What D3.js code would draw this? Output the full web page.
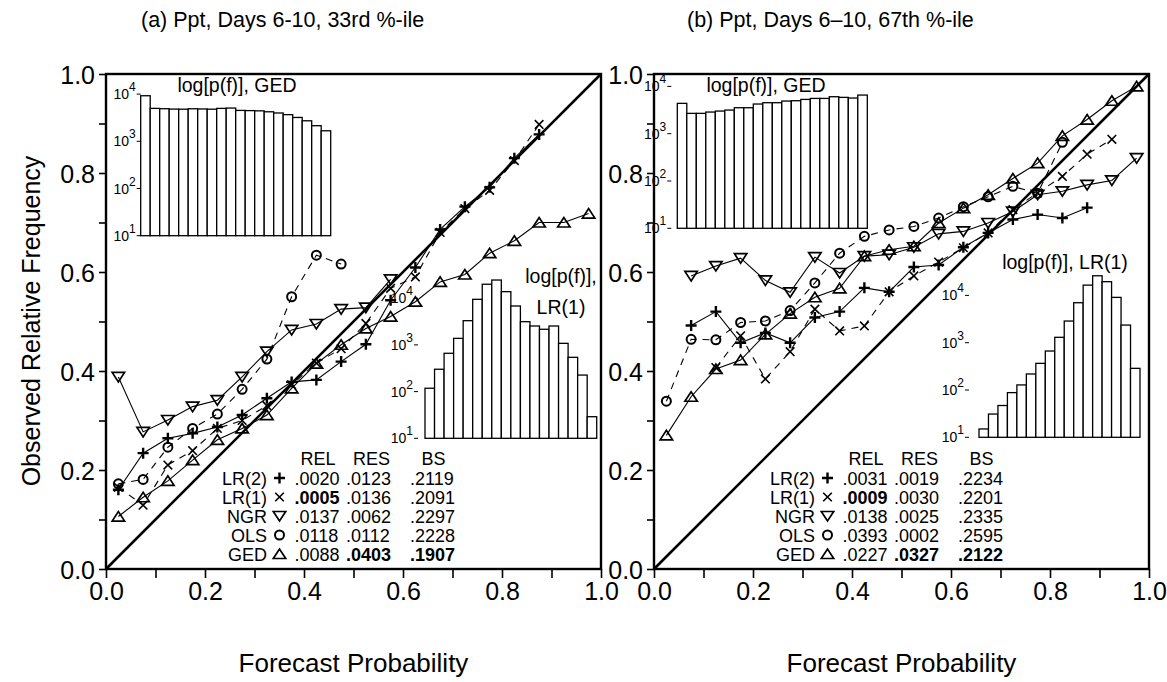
<!DOCTYPE html>
<html>
<head>
<meta charset="utf-8">
<script src="https://cdn.jsdelivr.net/npm/d3@7"></script>
<style>
  body { margin: 0; background: #fff; }
  text { font-family: "Liberation Sans", Arial, Helvetica, sans-serif; fill: #000; }
</style>
</head>
<body>
<svg id="chart" width="1167" height="682"></svg>
<script>
// ---- forecast probability bin centres (20 bins of width 0.05) ----
const probBins = [0.025, 0.075, 0.125, 0.175, 0.225, 0.275, 0.325, 0.375, 0.425, 0.475,
                  0.525, 0.575, 0.625, 0.675, 0.725, 0.775, 0.825, 0.875, 0.925, 0.975];

// ---- panel (a): observed relative frequency per bin ----
const aLR2 = [0.160, 0.234, 0.264, 0.274, 0.287, 0.311, 0.345, 0.378, 0.382, 0.419,
              0.454, 0.543, 0.609, 0.686, 0.732, 0.771, 0.830, 0.878, null, null];
const aLR1 = [0.165, 0.129, 0.210, 0.239, 0.284, 0.300, 0.330, 0.372, 0.416, 0.445,
              0.496, 0.567, 0.590, 0.680, 0.728, 0.765, 0.825, 0.898, null, null];
const aNGR = [0.388, 0.277, 0.301, 0.328, 0.341, 0.388, 0.439, 0.483, 0.495, 0.525,
              0.528, 0.585, null, null, null, null, null, null, null, null];
const aOLS = [0.172, 0.181, 0.246, 0.284, 0.313, 0.363, 0.424, 0.550, 0.634, 0.616,
              null, null, null, null, null, null, null, null, null, null];
const aGED = [0.106, 0.145, 0.178, 0.220, 0.261, 0.284, 0.311, 0.365, 0.415, 0.453,
              0.486, 0.510, 0.540, 0.580, 0.595, 0.638, 0.663, 0.700, 0.700, 0.718];

// ---- panel (b) ----
const bLR2 = [null, 0.492, 0.520, 0.457, 0.477, 0.457, 0.508, 0.520, 0.568, 0.560,
              0.610, 0.614, 0.650, 0.679, 0.706, 0.716, 0.709, 0.730, null, null];
const bLR1 = [null, null, 0.407, 0.471, 0.384, 0.439, 0.525, 0.481, 0.491, 0.560,
              0.592, 0.620, 0.649, 0.679, 0.726, 0.760, 0.793, 0.838, 0.868, null];
const bNGR = [null, 0.592, 0.612, 0.628, 0.583, 0.559, 0.630, 0.598, 0.632, 0.635,
              0.650, 0.677, 0.682, 0.699, 0.722, 0.756, 0.763, 0.776, 0.785, 0.830];
const bOLS = [0.339, 0.464, 0.463, 0.498, 0.501, 0.522, 0.578, 0.638, 0.672, 0.685,
              0.692, 0.709, 0.732, 0.752, 0.773, 0.759, 0.862, null, null, null];
const bGED = [0.270, 0.348, 0.404, 0.422, 0.474, 0.516, 0.549, 0.567, 0.632, 0.645,
              0.652, 0.699, 0.729, 0.756, 0.789, 0.820, 0.875, 0.908, 0.946, 0.975];

// ---- forecast counts per bin (histogram insets) ----
const aHistGED = [9230, 4980, 4900, 4810, 4790, 4890, 4840, 4790, 4980, 5060,
                  4510, 4470, 4420, 4220, 3980, 3670, 3200, 2720, 2140, 1670];
const aHistLR1 = [118, 301, 661, 1380, 3300, 9460, 19900, 24500, 13800, 6810,
                  3140, 2540, 2160, 2540, 1080, 542, 226, 29];          // bins 1-18
const bHistGED = [4380, 2690, 2690, 2870, 3010, 3160, 3540, 3540, 4240, 4520,
                  4520, 4900, 4980, 5310, 5570, 5570, 6050, 5860, 5680, 6560];
const bHistLR1 = [15, 31, 47, 88, 128, 218, 366, 667, 1300, 2870,
                  7000, 16500, 26000, 19500, 9080, 2360, 287];          // bins 3-19

// ---- score tables ----
const modelNames = ["LR(2)", "LR(1)", "NGR", "OLS", "GED"];
const aREL = [".0020", ".0005", ".0137", ".0118", ".0088"];
const aRES = [".0123", ".0136", ".0062", ".0112", ".0403"];
const aBS  = [".2119", ".2091", ".2297", ".2228", ".1907"];
const bREL = [".0031", ".0009", ".0138", ".0393", ".0227"];
const bRES = [".0019", ".0030", ".0025", ".0002", ".0327"];
const bBS  = [".2234", ".2201", ".2335", ".2595", ".2122"];

// ---- axis ticks ----
const axisTicks = [0, 0.1, 0.2, 0.3, 0.4, 0.5, 0.6, 0.7, 0.8, 0.9, 1.0];
const axisLabels = ["0.0", "", "0.2", "", "0.4", "", "0.6", "", "0.8", "", "1.0"];
const insetDecades = [1, 2, 3, 4];

// ---------------------------------------------------------------------------
const svg = d3.select("#chart");
const W = 495, H = 495, TOP = 74;
const symbolOf = { "LR(2)": "plus", "LR(1)": "cross", "NGR": "down", "OLS": "circle", "GED": "up" };

function drawMarker(g, type, x, y) {
  if (type === "plus") {
    g.append("path").attr("d", `M${x-5.5},${y}H${x+5.5}M${x},${y-5.5}V${y+5.5}`)
      .attr("stroke", "#000").attr("stroke-width", 2.4).attr("fill", "none");
  } else if (type === "cross") {
    g.append("path").attr("d", `M${x-4.3},${y-4.3}L${x+4.3},${y+4.3}M${x-4.3},${y+4.3}L${x+4.3},${y-4.3}`)
      .attr("stroke", "#000").attr("stroke-width", 1.6).attr("fill", "none");
  } else if (type === "down") {
    g.append("path").attr("d", `M${x-6.2},${y-4.5}L${x+6.2},${y-4.5}L${x},${y+5}Z`)
      .attr("stroke", "#000").attr("stroke-width", 1.7).attr("fill", "none");
  } else if (type === "up") {
    g.append("path").attr("d", `M${x-6.2},${y+4.5}L${x+6.2},${y+4.5}L${x},${y-5}Z`)
      .attr("stroke", "#000").attr("stroke-width", 1.7).attr("fill", "none");
  } else {
    g.append("circle").attr("cx", x).attr("cy", y).attr("r", 4.5)
      .attr("stroke", "#000").attr("stroke-width", 2).attr("fill", "none");
  }
}

function drawInset(g, counts, firstBin, box, title) {
  // box: left edge of first bar, baseline y, decade height, bar width, tick gap
  const n = counts.length;
  const xb = d3.scaleBand().domain(d3.range(firstBin, firstBin + n))
    .range([box.left, box.left + n * box.bw]).paddingInner(0).paddingOuter(0);
  const yl = d3.scaleLog().domain([10, 10000]).range([box.base, box.base - 3 * box.dec]);
  const ig = g.append("g");
  ig.selectAll("rect").data(counts).join("rect")
    .attr("x", (d, i) => xb(firstBin + i))
    .attr("y", d => yl(d))
    .attr("width", xb.bandwidth())
    .attr("height", d => box.base - yl(d))
    .attr("fill", "#fff").attr("stroke", "#000").attr("stroke-width", 1.3);
  const tx = box.left - box.gap;
  insetDecades.forEach(e => {
    const yy = yl(Math.pow(10, e));
    ig.append("line").attr("x1", tx - 4).attr("x2", tx).attr("y1", yy).attr("y2", yy)
      .attr("stroke", "#000").attr("stroke-width", 1);
    const t = ig.append("text").attr("x", tx - 5).attr("y", yy + 5)
      .attr("text-anchor", "end").attr("font-size", 14);
    t.append("tspan").text("10");
    t.append("tspan").attr("dy", -8).attr("font-size", 12).text(e);
  });
  title.lines.forEach((s, i) => {
    ig.append("text").attr("x", title.x).attr("y", title.y + i * 31)
      .attr("text-anchor", "middle").attr("font-size", 19.5).text(s);
  });
}

function drawPanel(left, cfg) {
  const g = svg.append("g").attr("transform", `translate(${left},${TOP})`);
  const x = d3.scaleLinear().domain([0, 1]).range([0, W]);
  const y = d3.scaleLinear().domain([0, 1]).range([H, 0]);

  // axes
  const xAxis = d3.axisBottom(x).tickValues(axisTicks).tickSize(9).tickPadding(4)
    .tickFormat((d, i) => axisLabels[i]);
  const yAxis = d3.axisLeft(y).tickValues(axisTicks).tickSize(7).tickPadding(4)
    .tickFormat((d, i) => axisLabels[i]);
  const gx = g.append("g").attr("transform", `translate(0,${H})`).call(xAxis);
  const gy = g.append("g").call(yAxis);
  [gx, gy].forEach(a => {
    a.select(".domain").remove();
    a.selectAll(".tick line").attr("stroke", "#000").attr("stroke-width", 1.6);
    a.selectAll(".tick text").attr("font-size", 25).attr("font-family", null);
  });
  gy.selectAll(".tick text").attr("dy", "0.36em");

  // frame and diagonal
  g.append("rect").attr("x", 0).attr("y", 0).attr("width", W).attr("height", H)
    .attr("fill", "none").attr("stroke", "#000").attr("stroke-width", 2.4);
  g.append("line").attr("x1", x(0)).attr("y1", y(0)).attr("x2", x(1)).attr("y2", y(1))
    .attr("stroke", "#000").attr("stroke-width", 2.6);

  // insets
  cfg.insets.forEach(ins => drawInset(g, ins.counts, ins.firstBin, ins.box, ins.title));

  // reliability curves
  cfg.series.forEach(s => {
    const pts = probBins.map((p, i) => [p, s.values[i]]);
    const line = d3.line().defined(d => d[1] !== null).x(d => x(d[0])).y(d => y(d[1]));
    g.append("path").datum(pts).attr("d", line).attr("fill", "none")
      .attr("stroke", "#000").attr("stroke-width", 1.1)
      .attr("stroke-dasharray", s.dashed ? "7,6" : null);
    const mg = g.append("g");
    pts.filter(d => d[1] !== null).forEach(d => drawMarker(mg, symbolOf[s.name], x(d[0]), y(d[1])));
  });

  // score table
  const tg = g.append("g");
  const hy = 390.5;
  [["REL", 212], ["RES", 265.5], ["BS", 327.5]].forEach(([h, cx]) => {
    tg.append("text").attr("x", cx).attr("y", hy).attr("text-anchor", "middle")
      .attr("font-size", 18).text(h);
  });
  modelNames.forEach((m, i) => {
    const ry = 410.5 + i * 19;
    tg.append("text").attr("x", 161).attr("y", ry).attr("text-anchor", "end")
      .attr("font-size", 18).text(m);
    drawMarker(tg, symbolOf[m], 173.5, ry - 6.5);
    [[cfg.rel[i], 188.5, "rel"], [cfg.res[i], 240, "res"], [cfg.bs[i], 304, "bs"]].forEach(([v, cx, key]) => {
      tg.append("text").attr("x", cx).attr("y", ry).attr("font-size", 18)
        .attr("font-weight", cfg.bold.some(b => b[0] === i && b[1] === key) ? "bold" : null)
        .text(v);
    });
  });

  // titles
  svg.append("text").attr("x", left + cfg.titleDx).attr("y", 27).attr("font-size", 21.5).text(cfg.title);
  svg.append("text").attr("x", left + W / 2).attr("y", 672).attr("text-anchor", "middle")
    .attr("font-size", 26).text("Forecast Probability");
}

drawPanel(106, {
  title: "(a) Ppt, Days 6-10, 33rd %-ile", titleDx: 35,
  series: [
    { name: "LR(2)", values: aLR2, dashed: false },
    { name: "LR(1)", values: aLR1, dashed: true },
    { name: "NGR", values: aNGR, dashed: false },
    { name: "OLS", values: aOLS, dashed: true },
    { name: "GED", values: aGED, dashed: false }
  ],
  insets: [
    { counts: aHistGED, firstBin: 0, box: { left: 34.7, base: 161.7, dec: 47.2, bw: 9.5, gap: 0 },
      title: { lines: ["log[p(f)], GED"], x: 131, y: 18 } },
    { counts: aHistLR1, firstBin: 0, box: { left: 319, base: 364.3, dec: 46.7, bw: 9.54, gap: 7 },
      title: { lines: ["log[p(f)],", "LR(1)"], x: 455, y: 209 } }
  ],
  rel: aREL, res: aRES, bs: aBS,
  bold: [[1, "rel"], [4, "res"], [4, "bs"]]
});

drawPanel(654, {
  title: "(b) Ppt, Days 6\u201310, 67th %-ile", titleDx: 33,
  series: [
    { name: "LR(2)", values: bLR2, dashed: false },
    { name: "LR(1)", values: bLR1, dashed: true },
    { name: "NGR", values: bNGR, dashed: false },
    { name: "OLS", values: bOLS, dashed: true },
    { name: "GED", values: bGED, dashed: false }
  ],
  insets: [
    { counts: bHistGED, firstBin: 0, box: { left: 23.3, base: 154.3, dec: 47.3, bw: 9.5, gap: 6 },
      title: { lines: ["log[p(f)], GED"], x: 112, y: 18 } },
    { counts: bHistLR1, firstBin: 2, box: { left: 325, base: 363.3, dec: 47.3, bw: 9.47, gap: 10 },
      title: { lines: ["log[p(f)], LR(1)"], x: 411, y: 194.5 } }
  ],
  rel: bREL, res: bRES, bs: bBS,
  bold: [[1, "rel"], [4, "res"], [4, "bs"]]
});

// shared y-axis title
svg.append("text").attr("transform", "translate(40,321) rotate(-90)")
  .attr("text-anchor", "middle").attr("font-size", 25).text("Observed Relative Frequency");
</script>
</body>
</html>
